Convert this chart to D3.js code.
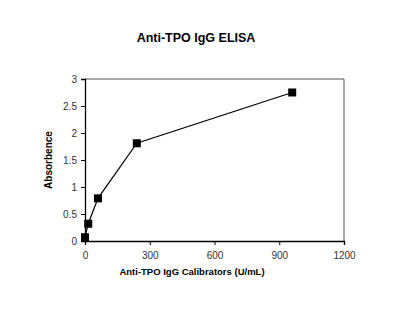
<!DOCTYPE html>
<html><head><meta charset="utf-8">
<script src="https://cdn.jsdelivr.net/npm/d3@7"></script>
<style>body{margin:0;background:#fff}svg{display:block;font-family:"Liberation Sans",Arial,sans-serif}</style>
</head><body>
<svg id="c" width="394" height="330"></svg>
<script>
const concentrations = [0, 15, 60, 240, 960];
const absorbance = [0.07, 0.32, 0.79, 1.81, 2.75];
const xTicks = [0, 300, 600, 900, 1200];
const yTicks = [0, 0.5, 1, 1.5, 2, 2.5, 3];
const title = "Anti-TPO IgG ELISA";
const xLabel = "Anti-TPO IgG Calibrators (U/mL)";
const yLabel = "Absorbence";

const svg = d3.select("#c");
const m = {l:85, t:79, r:344, b:241};
const x = d3.scaleLinear().domain([0,1200]).range([m.l, m.r]);
const y = d3.scaleLinear().domain([0,3]).range([m.b, m.t]);

svg.append("text").attr("x",196).attr("y",42).attr("text-anchor","middle")
  .attr("font-weight","bold").attr("font-size",12.5).text(title);

svg.append("path").attr("d",`M${m.l},${m.t}H${m.r}V${m.b}`).attr("fill","none").attr("stroke","#555").attr("stroke-width",1);

const xa = svg.append("g").attr("transform",`translate(0,${m.b})`)
  .call(d3.axisBottom(x).tickValues(xTicks).tickSize(4).tickFormat(d3.format("d")));
const ya = svg.append("g").attr("transform",`translate(${m.l},0)`)
  .call(d3.axisLeft(y).tickValues(yTicks).tickSize(4).tickFormat(d=>d));
[xa,ya].forEach(a=>{
  a.select(".domain").attr("stroke","#000").attr("stroke-width",1.3);
  a.selectAll(".tick line").attr("stroke","#000");
  a.selectAll("text").attr("font-size",10).attr("fill","#333").attr("font-family","Liberation Sans, Arial, sans-serif");
});
xa.selectAll("text").attr("dy","1.1em");
ya.selectAll("text").attr("dx","-0.1em");

svg.append("text").attr("x",192).attr("y",275).attr("text-anchor","middle")
  .attr("font-weight","bold").attr("font-size",9.5).text(xLabel);
svg.append("text").attr("transform",`translate(52,160) rotate(-90)`).attr("text-anchor","middle")
  .attr("font-weight","bold").attr("font-size",10).text(yLabel);

const pts = concentrations.map((c,i)=>[c, absorbance[i]]);
svg.append("path").datum(pts).attr("fill","none").attr("stroke","#000").attr("stroke-width",1.2)
  .attr("d", d3.line().x(d=>x(d[0])).y(d=>y(d[1])));
const s = 8;
svg.selectAll("rect.pt").data(pts).join("rect").attr("class","pt")
  .attr("x",d=>x(d[0])-s/2).attr("y",d=>y(d[1])-s/2).attr("width",s).attr("height",s).attr("fill","#000");
</script>
</body></html>
